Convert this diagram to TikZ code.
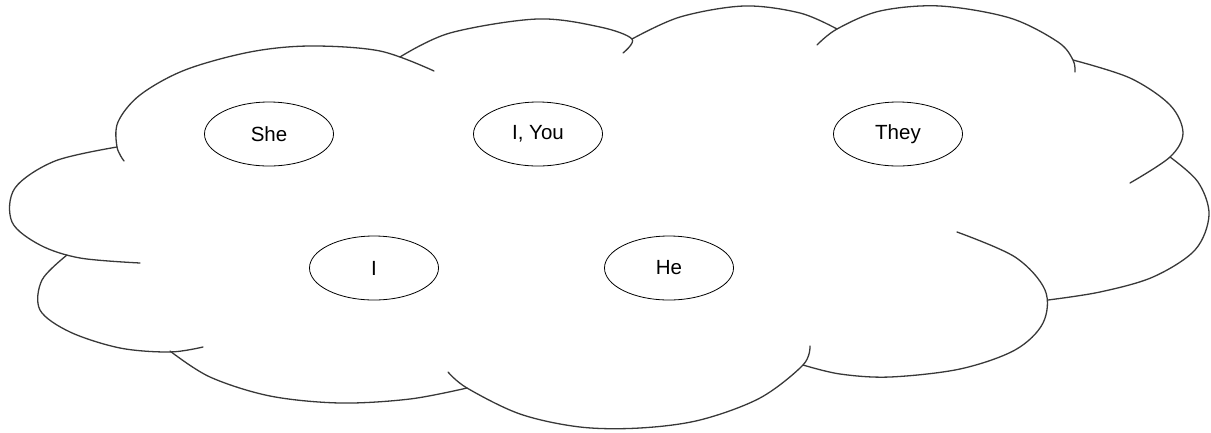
\documentclass[tikz,border=0pt]{standalone}
\usepackage{fontspec}
\setmainfont{Liberation Sans}
\usetikzlibrary{shapes.geometric}
\tikzset{
  lobe/.style={draw=black!78, line width=1.3pt, line cap=round},
  word/.style={ellipse, draw=black, line width=0.8pt, minimum width=129pt, minimum height=64pt, inner sep=0pt, font=\fontsize{20.5}{24}\selectfont}
}
\begin{document}
\begin{tikzpicture}[x=1pt, y=-1pt]
\useasboundingbox (0,0) rectangle (1211,432);
% cloud lobes
% She lobe
\draw[lobe] plot[smooth, tension=0.55] coordinates {(124,161) (117,147) (118,122) (140,95) (185,70) (250,52) (310,46) (380,51) (434,71)};
% I, You lobe
\draw[lobe] plot[smooth, tension=0.55] coordinates {(400,57) (450,33) (537,19) (600,27) (632,39) (623,53)};
% top middle-right lobe
\draw[lobe] plot[smooth, tension=0.55] coordinates {(632,39) (680,17) (744,6) (800,13) (837,29)};
% top-right lobe
\draw[lobe] plot[smooth, tension=0.55] coordinates {(817,45) (837,29) (880,11) (940,6) (1010,18) (1058,42) (1073,60) (1075,72)};
% right upper lobe
\draw[lobe] plot[smooth, tension=0.55] coordinates {(1073,60) (1130,78) (1170,105) (1183,133) (1170,157) (1130,183)};
% right lower lobe
\draw[lobe] plot[smooth, tension=0.55] coordinates {(1170,157) (1198,182) (1209,215) (1195,250) (1153,277) (1100,292) (1048,300)};
% bottom-right lobe
\draw[lobe] plot[smooth, tension=0.55] coordinates {(957,232) (1015,257) (1045,290) (1043,323) (1015,350) (960,369) (890,377) (840,374) (803,365)};
% bottom middle lobe
\draw[lobe] plot[smooth, tension=0.55] coordinates {(448,372) (467,388) (520,414) (580,427) (640,428) (700,420) (760,398) (803,365) (810,346)};
% bottom-left lobe
\draw[lobe] plot[smooth, tension=0.55] coordinates {(170,351) (210,377) (270,396) (340,403) (410,399) (467,388)};
% left lower lobe
\draw[lobe] plot[smooth, tension=0.55] coordinates {(67,255) (42,280) (40,310) (70,332) (120,348) (170,352) (203,347)};
% left upper lobe
\draw[lobe] plot[smooth, tension=0.55] coordinates {(117,147) (55,161) (15,188) (12,222) (40,245) (80,258) (140,263)};
% words
\node[word] (she) at (269,134) {She};
\node[word] (iyou) at (538,134) {I, You};
\node[word] (they) at (898,134) {They};
\node[word] (i) at (374,268) {I};
\node[word] (he) at (669,268) {He};
\end{tikzpicture}
\end{document}
